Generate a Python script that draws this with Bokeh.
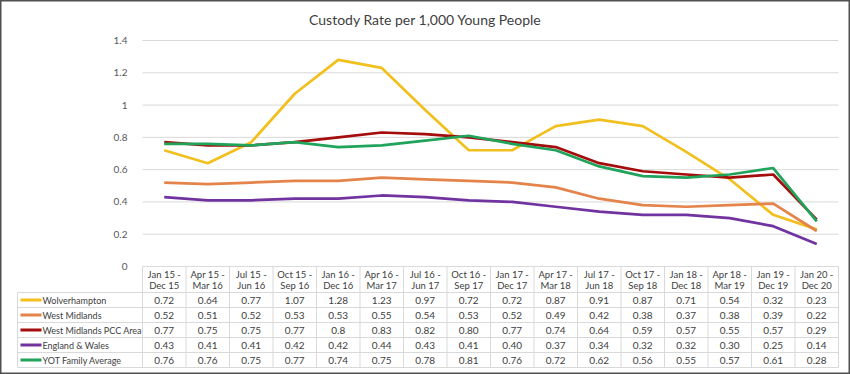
from bokeh.plotting import figure
from bokeh.models import Range1d, FixedTicker, CustomJSTickFormatter, LinearAxis
from bokeh.embed import file_html
from bokeh.resources import INLINE
from bokeh.core.properties import value

periods = ["Jan 15 - Dec 15", "Apr 15 - Mar 16", "Jul 15 - Jun 16", "Oct 15 - Sep 16",
           "Jan 16 - Dec 16", "Apr 16 - Mar 17", "Jul 16 - Jun 17", "Oct 16 - Sep 17",
           "Jan 17 - Dec 17", "Apr 17 - Mar 18", "Jul 17 - Jun 18", "Oct 17 - Sep 18",
           "Jan 18 - Dec 18", "Apr 18 - Mar 19", "Jan 19 - Dec 19", "Jan 20 - Dec 20"]

series_names = ["Wolverhampton", "West Midlands", "West Midlands PCC Area",
                "England & Wales", "YOT Family Average"]

wolverhampton = [0.72, 0.64, 0.77, 1.07, 1.28, 1.23, 0.97, 0.72, 0.72, 0.87, 0.91, 0.87, 0.71, 0.54, 0.32, 0.23]
west_midlands = [0.52, 0.51, 0.52, 0.53, 0.53, 0.55, 0.54, 0.53, 0.52, 0.49, 0.42, 0.38, 0.37, 0.38, 0.39, 0.22]
pcc_area = [0.77, 0.75, 0.75, 0.77, 0.80, 0.83, 0.82, 0.80, 0.77, 0.74, 0.64, 0.59, 0.57, 0.55, 0.57, 0.29]
england_wales = [0.43, 0.41, 0.41, 0.42, 0.42, 0.44, 0.43, 0.41, 0.40, 0.37, 0.34, 0.32, 0.32, 0.30, 0.25, 0.14]
yot_family = [0.76, 0.76, 0.75, 0.77, 0.74, 0.75, 0.78, 0.81, 0.76, 0.72, 0.62, 0.56, 0.55, 0.57, 0.61, 0.28]

y_ticks = [0, 0.2, 0.4, 0.6, 0.8, 1.0, 1.2, 1.4]
title_text = "Custody Rate per 1,000 Young People"

series_values = [wolverhampton, west_midlands, pcc_area, england_wales, yot_family]
colors = ["#F2C01E", "#E4834A", "#A50D0D", "#7033A0", "#20A35A"]

table_text = [[f"{v:.2f}" for v in s] for s in series_values]
table_text[2][4] = "0.8"

FONT = "Lato"
GRID = "#d9d9d9"
TXT = "#404040"

W, H = 850, 374
n = len(periods)
xs = [i + 0.5 for i in range(n)]

# pixel geometry -> data units
X0_PX = 142                 # left edge of the first period column
Y0_PX = 266                 # pixel row of value 0
COL_PX = 696 / n            # width of one period column
PX = 226 / 1.4              # pixels per y unit
left = -(X0_PX - 17) / COL_PX   # left edge of legend column
hdr = 26 / PX               # header row height
row_h = 15 / PX             # table row height

p = figure(width=W, height=H,
           x_range=Range1d(-X0_PX / COL_PX, (W - X0_PX) / COL_PX),
           y_range=Range1d(-(H - Y0_PX) / PX, Y0_PX / PX),
           output_backend="svg", toolbar_location=None,
           x_axis_location=None, y_axis_location=None,
           min_border=0)
p.outline_line_color = "#505050"
p.outline_line_width = 2
p.xgrid.grid_line_color = None
p.ygrid.grid_line_color = None

# title
p.text(x=[(425 - X0_PX) / COL_PX], y=[(Y0_PX - 19) / PX], text=[title_text],
       text_font=value(FONT), text_font_size="14px", text_color=TXT,
       text_align="center", text_baseline="middle")

# y axis placed at x = 0 (left edge of the plotting columns)
ya = LinearAxis(fixed_location=0, bounds=(0, 1.4), ticker=FixedTicker(ticks=y_ticks),
                formatter=CustomJSTickFormatter(code="return String(Math.round(tick*10)/10)"))
ya.axis_line_color = None
ya.major_tick_line_color = None
ya.minor_tick_line_color = None
ya.major_label_standoff = 9
ya.major_label_text_font = FONT
ya.major_label_text_font_size = "10px"
ya.major_label_text_color = "#595959"
p.add_layout(ya, "left")

# horizontal gridlines over the plotting columns
p.segment(x0=[0] * len(y_ticks), x1=[n] * len(y_ticks), y0=y_ticks, y1=y_ticks,
          line_color=GRID, line_width=1)

# series lines
for vals, c in zip(series_values, colors):
    p.line(xs, vals, line_color=c, line_width=2.7, line_join="round")

# ---------- data table ----------
nr = len(series_names)
row_top = [-hdr - r * row_h for r in range(nr + 1)]
row_mid = [-hdr - (r + 0.5) * row_h for r in range(nr)]

p.segment(x0=[left] * (nr + 1), x1=[n] * (nr + 1), y0=row_top, y1=row_top,
          line_color=GRID, line_width=1)
p.segment(x0=list(range(n + 1)), x1=list(range(n + 1)), y0=[0] * (n + 1),
          y1=[row_top[-1]] * (n + 1), line_color=GRID, line_width=1)
p.segment(x0=[left], x1=[left], y0=[row_top[0]], y1=[row_top[-1]],
          line_color=GRID, line_width=1)

# header
line1 = [s.split(" - ")[0] + " -" for s in periods]
line2 = [s.split(" - ")[1] for s in periods]
p.text(x=xs, y=[-7.5 / PX] * n, text=line1, text_font=value(FONT), text_font_size="9.5px",
       text_color=TXT, text_align="center", text_baseline="middle")
p.text(x=xs, y=[-18.5 / PX] * n, text=line2, text_font=value(FONT), text_font_size="9.5px",
       text_color=TXT, text_align="center", text_baseline="middle")

# legend column
p.segment(x0=[left + 3 / COL_PX] * nr, x1=[left + 24 / COL_PX] * nr,
          y0=row_mid, y1=row_mid, line_color=colors, line_width=3)
p.text(x=[left + 25 / COL_PX] * nr, y=row_mid, text=series_names,
       text_font=value(FONT), text_font_size="9px", text_color=TXT,
       text_align="left", text_baseline="middle")

cx, cy, ct = [], [], []
for r, labels in enumerate(table_text):
    for i, s in enumerate(labels):
        cx.append(i + 0.5)
        cy.append(row_mid[r])
        ct.append(s)
p.text(x=cx, y=cy, text=ct, text_font=value(FONT), text_font_size="10px",
       text_color=TXT, text_align="center", text_baseline="middle")

open("out.html", "w").write(file_html(p, INLINE))
